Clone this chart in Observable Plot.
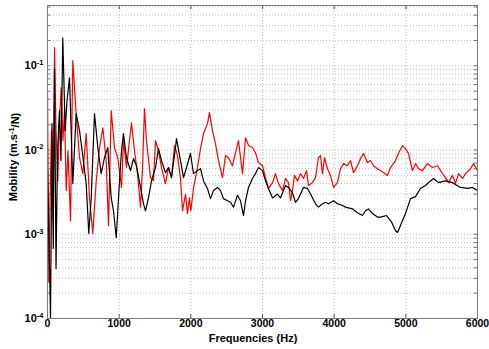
<!DOCTYPE html>
<html><head><meta charset="utf-8">
<script src="https://cdn.jsdelivr.net/npm/d3@7"></script>
<script src="https://cdn.jsdelivr.net/npm/@observablehq/plot@0.6"></script>
<style>body{margin:0;background:#fff;} #chart svg{font-family:"Liberation Sans",Arial,Helvetica,sans-serif;}</style>
</head><body><div id="chart"></div><script>
// Frequencies (Hz) and mobility (m.s^-1/N)
const freqBlack = [0,21,42,63,80,98,119,140,167,188,213,247,272,307,353,400,447,488,540,576,610,656,702,749,795,841,889,921,959,1005,1033,1060,1102,1158,1200,1242,1298,1340,1367,1409,1451,1507,1549,1591,1646,1688,1730,1786,1800,1856,1898,1940,1995,2037,2093,2135,2177,2232,2274,2316,2372,2414,2456,2512,2553,2595,2651,2693,2735,2763,2805,2860,2902,2944,3000,3042,3084,3140,3209,3251,3293,3321,3363,3418,3460,3502,3572,3628,3670,3739,3781,3837,3879,3921,3991,4046,4116,4158,4256,4325,4395,4437,4479,4535,4604,4646,4730,4800,4856,4884,4925,4995,5065,5135,5204,5274,5344,5386,5456,5553,5651,5763,5860,5930,6000];
const mobBlack = [0.0057,0.00084,0.0001,0.0206,0.00068,0.092,0.00039,0.0098,0.0293,0.0075,0.215,0.017,0.0385,0.072,0.0040,0.027,0.017,0.0091,0.0040,0.00102,0.0027,0.027,0.0107,0.00525,0.0081,0.0107,0.0027,0.0019,0.00091,0.0043,0.0098,0.0157,0.0081,0.0057,0.0079,0.0065,0.0036,0.0023,0.0019,0.0027,0.0043,0.0062,0.0104,0.0075,0.0054,0.0062,0.0047,0.0107,0.0137,0.0075,0.0047,0.0062,0.0091,0.00525,0.0057,0.0060,0.0043,0.0035,0.00265,0.0033,0.0036,0.0033,0.00265,0.0025,0.0024,0.0021,0.0029,0.0025,0.00167,0.0025,0.0036,0.0046,0.00525,0.0062,0.0057,0.0043,0.0035,0.0027,0.0030,0.0027,0.0033,0.0038,0.0036,0.0031,0.0024,0.00265,0.0036,0.0035,0.0030,0.0023,0.0021,0.0023,0.0024,0.0023,0.0025,0.0023,0.0022,0.0021,0.0020,0.0018,0.00167,0.0019,0.0020,0.00176,0.0016,0.0016,0.00167,0.0014,0.0011,0.00105,0.00127,0.00176,0.00265,0.0028,0.0035,0.0038,0.0043,0.0046,0.0041,0.0043,0.0041,0.0036,0.0035,0.0036,0.0033];
const freqRed = [0,18,35,56,77,98,119,144,167,191,216,237,261,286,321,353,400,447,493,540,586,632,680,726,772,819,851,889,935,981,1033,1060,1102,1172,1214,1256,1298,1326,1353,1381,1437,1479,1507,1549,1591,1646,1688,1730,1772,1814,1856,1884,1926,1953,1981,2000,2037,2093,2135,2177,2232,2260,2302,2344,2386,2442,2484,2525,2581,2623,2665,2721,2763,2805,2860,2902,2944,3000,3042,3084,3140,3181,3223,3279,3321,3363,3391,3418,3446,3488,3530,3572,3614,3642,3697,3739,3781,3809,3837,3865,3907,3949,3991,4046,4088,4130,4186,4228,4270,4325,4367,4409,4465,4507,4549,4604,4646,4688,4744,4786,4856,4897,4953,4995,5037,5093,5135,5177,5232,5302,5372,5442,5511,5553,5595,5651,5693,5735,5791,5832,5902,5944,6000];
const mobRed = [0.0507,0.00027,0.0025,0.017,0.00145,0.164,0.017,0.0043,0.0223,0.055,0.0129,0.0293,0.0033,0.0098,0.00145,0.115,0.027,0.0081,0.00525,0.0157,0.0027,0.00102,0.0043,0.0107,0.0184,0.0075,0.00127,0.0293,0.0107,0.0081,0.0036,0.0129,0.0062,0.0211,0.0098,0.00525,0.0021,0.0062,0.031,0.0129,0.0047,0.0043,0.0129,0.0098,0.0062,0.0040,0.0062,0.0047,0.0113,0.0086,0.0046,0.0019,0.0030,0.00176,0.0027,0.0019,0.0035,0.0062,0.0104,0.0157,0.0206,0.0278,0.017,0.0119,0.0075,0.0047,0.0086,0.0081,0.0065,0.0093,0.0129,0.00525,0.014,0.0113,0.0107,0.0093,0.0071,0.0065,0.0047,0.0035,0.0041,0.00525,0.0040,0.0033,0.0046,0.0041,0.0025,0.0033,0.0050,0.0043,0.00525,0.0046,0.0057,0.0038,0.0041,0.0047,0.0081,0.0086,0.00525,0.0081,0.0060,0.0050,0.0036,0.0041,0.0060,0.0069,0.0065,0.0075,0.0054,0.0065,0.0079,0.0091,0.0071,0.0075,0.0065,0.0060,0.0057,0.0054,0.0050,0.0062,0.0075,0.0091,0.0113,0.0104,0.0091,0.0057,0.0069,0.0060,0.0057,0.0069,0.0062,0.0065,0.00525,0.0047,0.0041,0.0050,0.0040,0.00525,0.0046,0.00525,0.0060,0.0069,0.0057];

const xTicks = [0,1000,2000,3000,4000,5000,6000];
const yTicks = [1e-4,1e-3,1e-2,1e-1];
const yTickExponents = ["-4","-3","-2","-1"];
const xLabel = "Frequencies (Hz)";
const yLabelParts = ["Mobility (m.s", "-1", "/N)"];
const yDomain = [1e-4, 0.52];

const black = freqBlack.map((f, i) => ({f, m: mobBlack[i]}));
const red = freqRed.map((f, i) => ({f, m: mobRed[i]}));
const yGrid = d3.scaleLog().domain(yDomain).ticks().filter(v => v > yDomain[0] && v < yDomain[1]);
const inner = xTicks.slice(1, -1);

const plot = Plot.plot({
  width: 489, height: 349,
  marginLeft: 47, marginRight: 12, marginTop: 5, marginBottom: 31,
  style: {fontSize: "10.5px", fontWeight: "bold", color: "#000", background: "#fff", overflow: "visible"},
  x: {domain: [0, 6000], ticks: xTicks, tickFormat: d => String(d), tickSize: 0, tickPadding: 1, label: null},
  y: {type: "log", domain: yDomain, ticks: yTicks, tickFormat: () => "10", tickSize: 0, tickPadding: 4, label: null},
  marks: [
    Plot.ruleY(yGrid, {stroke: "#a0a0a0", strokeDasharray: "1,2", strokeWidth: 0.7}),
    Plot.ruleX(inner, {stroke: "#a0a0a0", strokeDasharray: "1,2", strokeWidth: 0.7}),
    // inward tick marks (bottom/top and left/right)
    Plot.ruleX(inner, {y1: yDomain[0], y2: yDomain[0] * 1.12, stroke: "#555", strokeWidth: 1}),
    Plot.ruleX(inner, {y1: yDomain[1], y2: yDomain[1] / 1.12, stroke: "#555", strokeWidth: 1}),
    Plot.ruleY(yGrid, {x1: 0, x2: 45, stroke: "#555", strokeWidth: 0.8}),
    Plot.ruleY(yGrid, {x1: 6000, x2: 5955, stroke: "#555", strokeWidth: 0.8}),
    Plot.line(red, {x: "f", y: "m", stroke: "#ff0000", strokeWidth: 1.2, clip: true}),
    Plot.line(black, {x: "f", y: "m", stroke: "#000", strokeWidth: 1.2, clip: true}),
    Plot.frame({stroke: "#7a7a7a", strokeWidth: 1})
  ]
});
document.getElementById("chart").appendChild(plot);

const svg = d3.select(plot);
svg.selectAll('g[aria-label="y-axis tick label"] text').each(function(d, i) {
  const t = d3.select(this);
  t.attr("font-size", "11px");
  t.append("tspan").attr("dy", "-0.55em").attr("font-size", "7.5px").text(yTickExponents[i]);
});
svg.append("text")
  .attr("x", 253).attr("y", 342)
  .attr("text-anchor", "middle").attr("font-size", "11px").attr("font-weight", "bold")
  .attr("fill", "#000").text(xLabel);
const yl = svg.append("text")
  .attr("transform", "translate(17,157) rotate(-90)")
  .attr("text-anchor", "middle").attr("font-size", "11px").attr("font-weight", "bold").attr("fill", "#000");
yl.append("tspan").text(yLabelParts[0]);
yl.append("tspan").attr("dy", "-0.45em").attr("font-size", "7.5px").text(yLabelParts[1]);
yl.append("tspan").attr("dy", "0.45em").text(yLabelParts[2]);
</script></body></html>
